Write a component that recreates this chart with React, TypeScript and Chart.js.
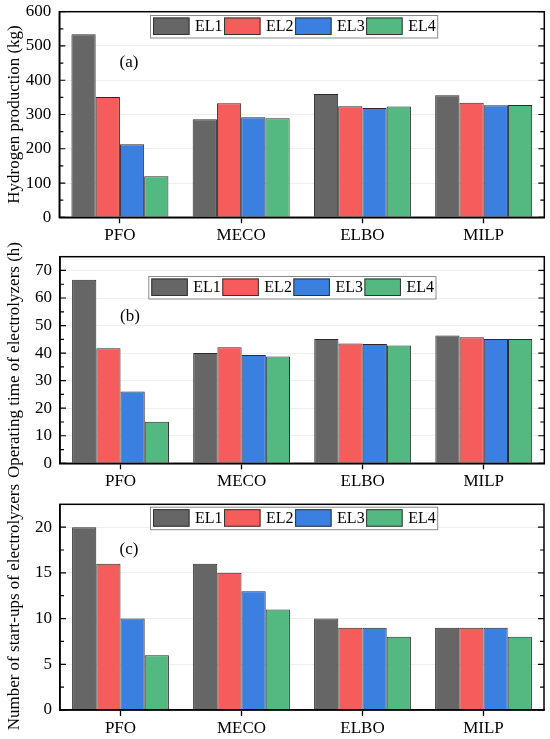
import { useEffect, useRef } from 'react';
import { Chart, registerables } from 'chart.js';

Chart.register(...registerables);

const categories = ['PFO', 'MECO', 'ELBO', 'MILP'];
const seriesNames = ['EL1', 'EL2', 'EL3', 'EL4'];
const seriesColors = ['#666666', '#f55d5d', '#3b80e0', '#54b981'];

// (a) hydrogen production, kg
const hydrogenEL1 = [534, 286, 360, 356];
const hydrogenEL2 = [351, 333, 324, 334];
const hydrogenEL3 = [213, 292, 319, 327];
const hydrogenEL4 = [120, 289, 323, 328];
const hydrogenTicks = [0, 100, 200, 300, 400, 500, 600];
const hydrogenMinor = [50, 150, 250, 350, 450, 550];

// (b) operating time, h
const hoursEL1 = [66.6, 40.0, 45.1, 46.4];
const hoursEL2 = [41.8, 42.1, 43.5, 45.8];
const hoursEL3 = [26.1, 39.3, 43.3, 45.1];
const hoursEL4 = [15.1, 38.8, 42.8, 45.1];
const hoursTicks = [0, 10, 20, 30, 40, 50, 60, 70];
const hoursMinor = [5, 15, 25, 35, 45, 55, 65];

// (c) start-ups
const startsEL1 = [20, 16, 10, 9];
const startsEL2 = [16, 15, 9, 9];
const startsEL3 = [10, 13, 9, 9];
const startsEL4 = [6, 11, 8, 8];
const startsTicks = [0, 5, 10, 15, 20];
const startsMinor = [2.5, 7.5, 12.5, 17.5];

const FAMILY = "'Liberation Serif', 'Times New Roman', serif";

interface PanelProps {
	top: number;
	height: number;
	plotTop: number;
	plotBottom: number;
	plotLeft: number;
	plotRight: number;
	yMax: number;
	series: number[][];
	majorTicks: number[];
	minorTicks: number[];
	yTitle: string;
	letter: string;
	letterX: number;
	letterY: number;
	legendLeft: number;
	legendTop: number;
}

function Panel(p: PanelProps) {
	const canvasRef = useRef<HTMLCanvasElement | null>(null);

	useEffect(() => {
		if (!canvasRef.current) return;
		const font = { family: FAMILY, size: 17 };

		const overlay = {
			id: 'overlay',
			afterDraw(chart: Chart) {
				const { ctx, chartArea: a } = chart;
				const y = chart.scales.y;
				ctx.save();
				// frame
				ctx.strokeStyle = '#000';
				ctx.lineWidth = 1.5;
				ctx.strokeRect(a.left, a.top, a.right - a.left, a.bottom - a.top);
				// inner ticks, both sides
				ctx.lineWidth = 1.2;
				const tick = (v: number, len: number) => {
					const py = y.getPixelForValue(v);
					ctx.beginPath();
					ctx.moveTo(a.left, py);
					ctx.lineTo(a.left + len, py);
					ctx.moveTo(a.right, py);
					ctx.lineTo(a.right - len, py);
					ctx.stroke();
				};
				p.majorTicks.forEach((v) => tick(v, 6));
				p.minorTicks.forEach((v) => tick(v, 4));

				// legend box
				ctx.font = `16px ${FAMILY}`;
				const sw = 36.5;
				const sh = 17.5;
				const items = chart.data.datasets.map((ds) => ({
					label: String(ds.label),
					color: String(ds.backgroundColor),
					w: sw + 5.5 + ctx.measureText(String(ds.label)).width + 1.5
				}));
				const boxW = 3 + items.reduce((s, it) => s + it.w, 0);
				const boxH = 22.5;
				const bx = p.legendLeft;
				const by = p.legendTop - p.top;
				ctx.fillStyle = '#fff';
				ctx.fillRect(bx, by, boxW, boxH);
				ctx.strokeStyle = '#8a8a8a';
				ctx.lineWidth = 1;
				ctx.strokeRect(bx + 0.5, by + 0.5, boxW, boxH);
				let x = bx + 3;
				items.forEach((it) => {
					ctx.fillStyle = it.color;
					ctx.fillRect(x, by + 2.5, sw, sh);
					ctx.strokeStyle = '#333';
					ctx.strokeRect(x + 0.5, by + 2.5 + 0.5, sw - 1, sh - 1);
					ctx.fillStyle = '#000';
					ctx.textAlign = 'left';
					ctx.textBaseline = 'middle';
					ctx.fillText(it.label, x + sw + 5.5, by + 2.5 + sh / 2 + 1);
					x += it.w;
				});

				// panel letter
				ctx.font = `17px ${FAMILY}`;
				ctx.textAlign = 'center';
				ctx.textBaseline = 'middle';
				ctx.fillStyle = '#000';
				ctx.fillText(p.letter, p.letterX, p.letterY - p.top);
				ctx.restore();
			}
		};

		const chart = new Chart(canvasRef.current, {
			type: 'bar',
			data: {
				labels: categories,
				datasets: p.series.map((values, i) => ({
					label: seriesNames[i],
					data: values,
					backgroundColor: seriesColors[i],
					borderColor: '#2a2a2a',
					borderWidth: 1,
					categoryPercentage: 0.8,
					barPercentage: 1
				}))
			},
			options: {
				responsive: false,
				animation: false,
				layout: {
					padding: {
						top: p.plotTop - p.top,
						right: 550 - p.plotRight,
						left: 0,
						bottom: 0
					}
				},
				plugins: {
					legend: { display: false },
					tooltip: { enabled: false }
				},
				scales: {
					x: {
						grid: {
							display: true,
							drawOnChartArea: false,
							drawTicks: true,
							tickLength: 6,
							offset: false,
							color: '#000',
							tickColor: '#000',
							tickWidth: 1.3
						},
						border: { display: true, color: '#000', width: 1.5 },
						ticks: { color: '#000', font, padding: 2 },
						afterFit(scale) {
							scale.height = p.top + p.height - p.plotBottom;
						}
					},
					y: {
						min: 0,
						max: p.yMax,
						afterBuildTicks(scale) {
							scale.ticks = p.majorTicks.map((v) => ({ value: v }));
						},
						grid: { color: '#eeeeee', drawTicks: false, lineWidth: 1 },
						border: { display: true, color: '#000', width: 1.5 },
						ticks: { color: '#000', font, padding: 8 },
						title: {
							display: true,
							text: p.yTitle,
							color: '#000',
							font,
							padding: { top: 4, bottom: 0 }
						},
						afterFit(scale) {
							scale.width = p.plotLeft;
						}
					}
				}
			},
			plugins: [overlay]
		});

		return () => {
			chart.destroy();
		};
	}, [p]);

	return (
		<canvas
			ref={canvasRef}
			width={550}
			height={p.height}
			style={{ position: 'absolute', left: 0, top: p.top, width: 550, height: p.height }}
		/>
	);
}

export default function App() {
	return (
		<div style={{ position: 'absolute', left: 0, top: 0, width: 550, height: 739, background: '#fff', overflow: 'hidden' }}>
			<Panel
				top={-12}
				height={257}
				plotTop={11.7}
				plotBottom={217.3}
				plotLeft={59.3}
				plotRight={544.3}
				yMax={600}
				series={[hydrogenEL1, hydrogenEL2, hydrogenEL3, hydrogenEL4]}
				majorTicks={hydrogenTicks}
				minorTicks={hydrogenMinor}
				yTitle="Hydrogen production (kg)"
				letter="(a)"
				letterX={129}
				letterY={63}
				legendLeft={150}
				legendTop={15}
			/>
			<Panel
				top={233}
				height={257}
				plotTop={256.7}
				plotBottom={463.3}
				plotLeft={60}
				plotRight={544.3}
				yMax={75}
				series={[hoursEL1, hoursEL2, hoursEL3, hoursEL4]}
				majorTicks={hoursTicks}
				minorTicks={hoursMinor}
				yTitle="Operating time of electrolyzers (h)"
				letter="(b)"
				letterX={130}
				letterY={316.7}
				legendLeft={148.3}
				legendTop={276}
			/>
			<Panel
				top={478}
				height={261}
				plotTop={504.3}
				plotBottom={710}
				plotLeft={60}
				plotRight={544}
				yMax={22.5}
				series={[startsEL1, startsEL2, startsEL3, startsEL4]}
				majorTicks={startsTicks}
				minorTicks={startsMinor}
				yTitle="Number of start-ups of electrolyzers"
				letter="(c)"
				letterX={129}
				letterY={550}
				legendLeft={150}
				legendTop={506.7}
			/>
		</div>
	);
}
